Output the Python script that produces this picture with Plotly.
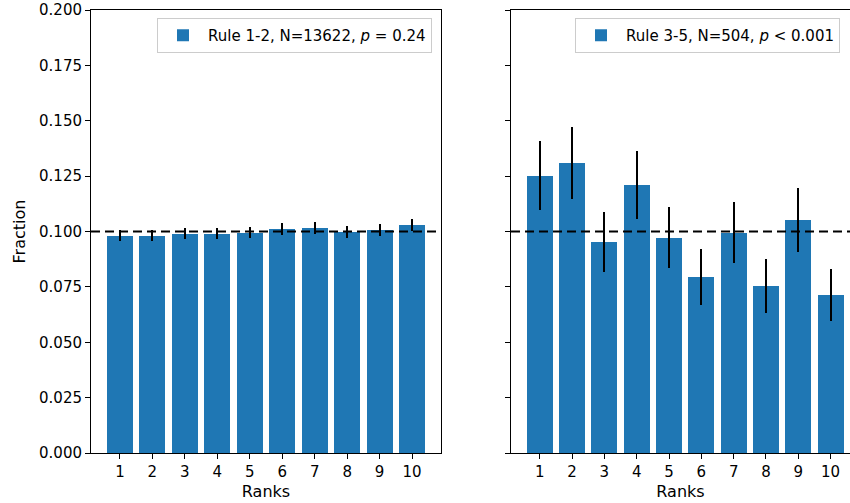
import plotly.graph_objects as go

ranks = list(range(1, 11))
rank_labels = [str(r) for r in ranks]

left_values = [0.0980, 0.0980, 0.0990, 0.0990, 0.0995, 0.1011, 0.1016, 0.0998, 0.1007, 0.1029]
left_errors = [0.0025, 0.0025, 0.0026, 0.0026, 0.0026, 0.0027, 0.0027, 0.0026, 0.0026, 0.0027]
left_name = "Rule 1-2, N=13622, <i>p</i> = 0.24"

right_values = [0.1251, 0.1309, 0.0953, 0.1210, 0.0971, 0.0795, 0.0995, 0.0754, 0.1052, 0.0713]
right_errors = [0.0156, 0.0161, 0.0137, 0.0153, 0.0138, 0.0125, 0.0139, 0.0122, 0.0145, 0.0118]
right_name = "Rule 3-5, N=504, <i>p</i> &lt; 0.001"

reference_level = 0.1
y_ticks = [0.0, 0.025, 0.05, 0.075, 0.1, 0.125, 0.15, 0.175, 0.2]

BLUE = "#1f77b4"
FONT = "DejaVu Sans"
TITLE_FONT = dict(family=FONT, size=16, color="black")

fig = go.Figure()
fig.add_trace(go.Bar(
    x=ranks, y=left_values, width=0.8, marker=dict(color=BLUE, line=dict(width=0)),
    error_y=dict(type="data", array=left_errors, color="black", thickness=2, width=0),
    name=left_name, xaxis="x", yaxis="y", legend="legend", showlegend=True,
))
fig.add_trace(go.Bar(
    x=ranks, y=right_values, width=0.8, marker=dict(color=BLUE, line=dict(width=0)),
    error_y=dict(type="data", array=right_errors, color="black", thickness=2, width=0),
    name=right_name, xaxis="x2", yaxis="y2", legend="legend2", showlegend=True,
))

for xr, yr in (("x domain", "y"), ("x2 domain", "y2")):
    fig.add_shape(type="line", xref=xr, yref=yr, x0=0, x1=1,
                  y0=reference_level, y1=reference_level,
                  line=dict(color="black", width=2, dash="9px,5px"), layer="above")

axis_common = dict(showline=True, linecolor="black", linewidth=1, ticks="outside",
                   ticklen=5, tickwidth=1, tickcolor="black", showgrid=False,
                   zeroline=False, tickfont=dict(family=FONT, size=15, color="black"))

fig.update_layout(
    width=850, height=503,
    margin=dict(l=91, r=0, t=10, b=50, autoexpand=False),
    paper_bgcolor="white", plot_bgcolor="white",
    font=dict(family=FONT, size=15, color="black"),
    xaxis=dict(domain=[0, 350 / 759], range=[0.11, 10.89], tickvals=ranks, ticktext=rank_labels,
               mirror=True, title=dict(text="Ranks", standoff=5, font=TITLE_FONT), **axis_common),
    yaxis=dict(range=[0, 0.2], tickvals=y_ticks, tickformat=".3f", mirror=True,
               title=dict(text="Fraction", standoff=9, font=TITLE_FONT), **axis_common),
    xaxis2=dict(domain=[420 / 759, 1], range=[0.11, 10.6], tickvals=ranks, ticktext=rank_labels,
                mirror=True, anchor="y2", title=dict(text="Ranks", standoff=5, font=TITLE_FONT),
                **axis_common),
    yaxis2=dict(range=[0, 0.2], tickvals=y_ticks, showticklabels=False, mirror=False,
                anchor="x2", **axis_common),
    legend=dict(x=(432 - 91) / 759, xanchor="right", y=(453 - 18) / 443, yanchor="top",
                bgcolor="white", bordercolor="#cccccc", borderwidth=1,
                font=dict(family=FONT, size=15, color="black"), itemwidth=40),
    legend2=dict(x=(575 - 91) / 759, xanchor="left", y=(453 - 18) / 443, yanchor="top",
                 bgcolor="white", bordercolor="#cccccc", borderwidth=1,
                 font=dict(family=FONT, size=15, color="black"), itemwidth=40),
    bargap=0,
)

# remove the default 8px page margin so the figure sits at the window's corner
fig.write_html("out.html", config={"displayModeBar": False},
               post_script="document.body.style.margin='0';")
